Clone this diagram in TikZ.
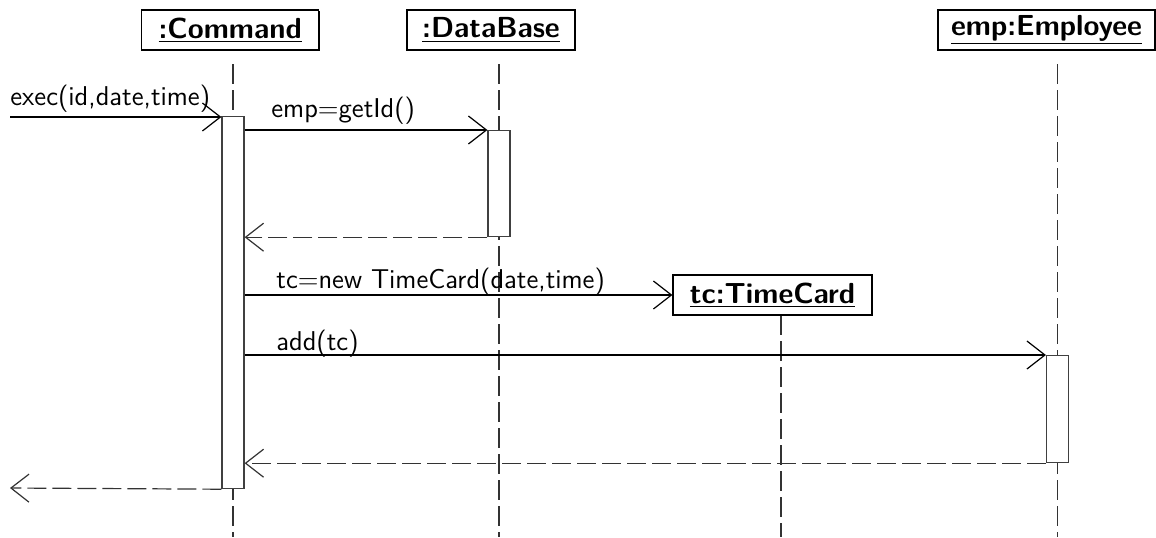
\documentclass[tikz,border=0pt]{standalone}
\usepackage{fontspec}
\usetikzlibrary{arrows.meta,shadows}
\begin{document}
\begin{tikzpicture}[x=0.5pt,y=-0.5pt,
  obj/.style={draw, line width=0.6pt, fill=white, inner sep=0pt, minimum height=20pt,
    font=\sffamily\bfseries\fontsize{14.5}{16}\selectfont,
    drop shadow={shadow xshift=0.7pt, shadow yshift=-0.7pt, opacity=1, fill=black}},
  act/.style={draw=black!75, line width=0.6pt, fill=white, inner sep=0pt, minimum width=11pt, anchor=north},
  lbl/.style={inner sep=0pt, anchor=base west, font=\sffamily\fontsize{13.6}{15}\selectfont},
  msg/.style={line width=0.6pt, -{Straight Barb[length=9pt,width=14pt,line width=0.6pt]}},
  ret/.style={line width=0.6pt, draw=black!80, dash pattern=on 9.5pt off 3pt, -{Straight Barb[length=9pt,width=14pt,line width=0.6pt]}},
  life/.style={line width=0.6pt, draw=black!80, dash pattern=on 10pt off 3pt}
]
\useasboundingbox (0,0) rectangle (1156,537);

% lifeline end points
\coordinate (cmdtop) at (233,64);   \coordinate (cmdbot) at (233,537);
\coordinate (dbtop) at (499,64);    \coordinate (dbbot) at (499,537);
\coordinate (emptop) at (1057.5,64); \coordinate (empbot) at (1057.5,537);
\coordinate (tctop) at (781,315);   \coordinate (tcbot) at (781,537);

\draw[life] (cmdtop) -- (cmdbot);
\draw[life] (dbtop) -- (dbbot);
\draw[life] (emptop) -- (empbot);
\draw[life] (tctop) -- (tcbot);

% objects
\node[obj, minimum width=88.5pt] (cmd) at (230.2,30) {\underline{:Command}};
\node[obj, minimum width=84pt] (db) at (491,30) {\underline{:DataBase}};
\node[obj, minimum width=108.5pt] (emp) at (1046.5,30) {\underline{emp:Employee}};
\node[obj, minimum width=99.5pt] (tc) at (772.5,295) {\underline{tc:TimeCard}};

% activations
\node[act, minimum height=186pt] (cact) at (233,116) {};
\node[act, minimum height=53pt] (dact) at (499,130) {};
\node[act, minimum height=53.5pt] (eact) at (1057.5,355) {};

% messages
\coordinate (src) at (10,117);
\draw[msg] (src) -- (src -| cact.west);
\node[lbl] (lexec) at (10,105) {exec(id,date,time)};

\draw[msg] (cact.east |- dact.north) -- (dact.north west);
\node[lbl] (lget) at (271,117) {emp=getId()};

\draw[ret] (dact.south west) -- (dact.south west -| cact.east);

\draw[msg] (cact.east |- tc.west) -- (tc.west);
\node[lbl] (lnew) at (276,288.5) {tc=new TimeCard(date,time)};

\draw[msg] (cact.east |- eact.north) -- (eact.north west);
\node[lbl] (ladd) at (276,350) {add(tc)};

\draw[ret] (eact.south west) -- (eact.south west -| cact.east);

\coordinate (out) at (10,488);
\draw[ret] (cact.south west) -- (out);
\end{tikzpicture}
\end{document}
